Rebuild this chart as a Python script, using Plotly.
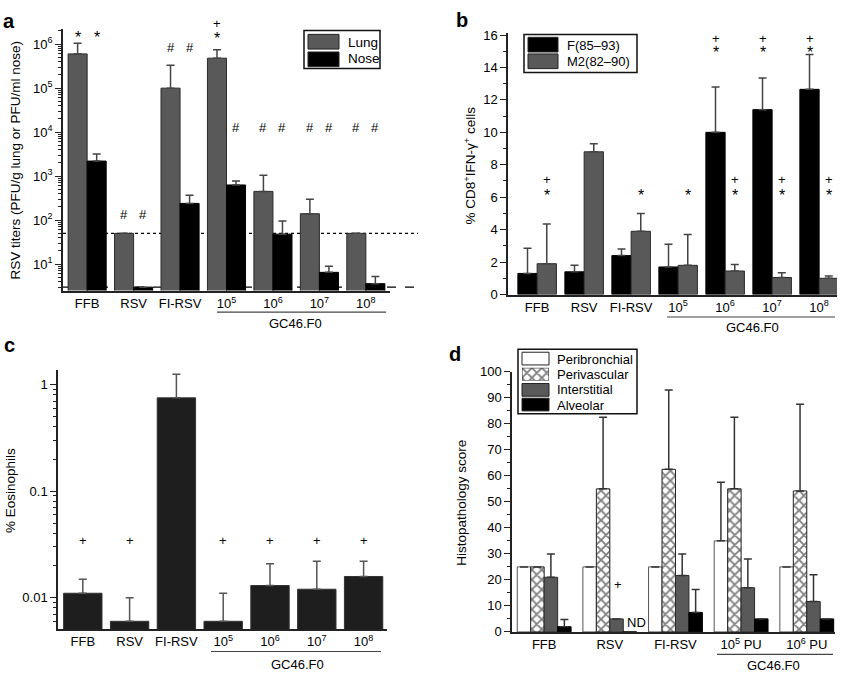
import math
import plotly.graph_objects as go

W, H = 843, 681
FONT = "Liberation Sans, Arial, Helvetica, sans-serif"


def px(x):
    return x / W


def py(y):
    return 1 - y / H


# ---------------- data ----------------
# Panel a: RSV titers
groups_a = ["FFB", "RSV", "FI-RSV", "10<sup>5</sup>", "10<sup>6</sup>", "10<sup>7</sup>", "10<sup>8</sup>"]
lung = [6.0e5, 50, 1.0e5, 4.8e5, 450, 140, 50]
lung_sd = [4.5e5, 0, 2.3e5, 2.7e5, 600, 160, 0]
nose = [2200, 3, 240, 630, 48, 6.5, 3.6]
nose_sd = [1000, 0, 130, 150, 47, 2.5, 1.6]
lung_lod = 50
nose_lod = 3
# (group, series 0=lung 1=nose, symbol, level)
marks_a = [
    (0, 0, "*", 1.75e6), (0, 1, "*", 1.75e6),
    (1, 0, "#", 135), (1, 1, "#", 135),
    (2, 0, "#", 8.5e5), (2, 1, "#", 8.5e5),
    (3, 0, "+", 2.95e6), (3, 0, "*", 1.66e6),
    (3, 1, "#", 1.3e4), (4, 0, "#", 1.3e4), (4, 1, "#", 1.3e4),
    (5, 0, "#", 1.3e4), (5, 1, "#", 1.3e4), (6, 0, "#", 1.3e4), (6, 1, "#", 1.3e4),
]

# Panel b: % CD8+ IFN-g+ cells
groups_b = groups_a
f_epi = [1.3, 1.4, 2.4, 1.7, 10.0, 11.4, 12.65]
f_sd = [1.55, 0.4, 0.4, 1.4, 2.8, 1.95, 2.15]
m2_epi = [1.9, 8.8, 3.9, 1.8, 1.45, 1.05, 1.0]
m2_sd = [2.45, 0.5, 1.1, 1.9, 0.4, 0.3, 0.15]
marks_b = [
    (0, 1, "+", 7.07), (0, 1, "*", 6.34),
    (2, 1, "*", 6.34), (3, 1, "*", 6.34),
    (4, 0, "+", 15.8), (4, 0, "*", 15.15), (4, 1, "+", 7.07), (4, 1, "*", 6.34),
    (5, 0, "+", 15.8), (5, 0, "*", 15.15), (5, 1, "+", 7.07), (5, 1, "*", 6.34),
    (6, 0, "+", 15.8), (6, 0, "*", 15.15), (6, 1, "+", 7.07), (6, 1, "*", 6.34),
]

# Panel c: % eosinophils
groups_c = groups_a
eos = [0.011, 0.006, 0.75, 0.006, 0.013, 0.012, 0.0158]
eos_sd = [0.0039, 0.004, 0.5, 0.005, 0.0078, 0.010, 0.0062]
plus_c_groups = [0, 1, 3, 4, 5, 6]
plus_c_level = 0.0347

# Panel d: histopathology
groups_d = ["FFB", "RSV", "FI-RSV", "10<sup>5</sup> PU", "10<sup>6</sup> PU"]
peribronchial = [25, 25, 25, 35, 25]
peribronchial_sd = [0, 0, 0, 22.5, 0]
perivascular = [25, 55, 62.5, 55, 54.2]
perivascular_sd = [0, 27.5, 30.5, 27.5, 33.3]
interstitial = [21, 5, 21.7, 17, 11.7]
interstitial_sd = [9, 0, 8.3, 11, 10.3]
alveolar = [2, 0, 7.5, 5, 5]
alveolar_sd = [2.8, 0, 8.8, 0, 0]

# ---------------- figure ----------------
fig = go.Figure()

BARGAP = 0.18
HATCH = dict(shape="x", fgcolor="#000", bgcolor="white", size=7, solidity=0.45)
GRAY = "#595959"


def err(sd, color="#444"):
    return dict(type="data", symmetric=False, array=sd, arrayminus=[0] * len(sd),
                color=color, thickness=1.5, width=4)


xs_a = list(range(len(groups_a)))
fig.add_trace(go.Bar(x=xs_a, y=lung, name="Lung", xaxis="x", yaxis="y",
                     marker=dict(color=GRAY, line=dict(color="#2a2a2a", width=1)),
                     error_y=err(lung_sd), showlegend=False))
fig.add_trace(go.Bar(x=xs_a, y=nose, name="Nose", xaxis="x", yaxis="y",
                     marker=dict(color="#000000", line=dict(color="#000", width=1)),
                     error_y=err(nose_sd), showlegend=False))

xs_b = list(range(len(groups_b)))
fig.add_trace(go.Bar(x=xs_b, y=f_epi, name="F(85–93)", xaxis="x2", yaxis="y2",
                     marker=dict(color="#000000", line=dict(color="#000", width=1)),
                     error_y=err(f_sd), showlegend=False))
fig.add_trace(go.Bar(x=xs_b, y=m2_epi, name="M2(82–90)", xaxis="x2", yaxis="y2",
                     marker=dict(color=GRAY, line=dict(color="#2a2a2a", width=1)),
                     error_y=err(m2_sd), showlegend=False))

xs_c = list(range(len(groups_c)))
fig.add_trace(go.Bar(x=xs_c, y=eos, name="Eosinophils", xaxis="x3", yaxis="y3",
                     marker=dict(color="#1e1e1e", line=dict(color="#333", width=1)),
                     error_y=err(eos_sd, "#555"), showlegend=False))

xs_d = list(range(len(groups_d)))
fig.add_trace(go.Bar(x=xs_d, y=peribronchial, name="Peribronchial", xaxis="x4", yaxis="y4",
                     marker=dict(color="white", line=dict(color="#555", width=1)),
                     error_y=err(peribronchial_sd, "#333"), showlegend=False))
fig.add_trace(go.Bar(x=xs_d, y=perivascular, name="Perivascular", xaxis="x4", yaxis="y4",
                     marker=dict(color="white", line=dict(color="#222", width=1), pattern=HATCH),
                     error_y=err(perivascular_sd, "#333"), showlegend=False))
fig.add_trace(go.Bar(x=xs_d, y=interstitial, name="Interstitial", xaxis="x4", yaxis="y4",
                     marker=dict(color=GRAY, line=dict(color="#2a2a2a", width=1)),
                     error_y=err(interstitial_sd, "#333"), showlegend=False))
fig.add_trace(go.Bar(x=xs_d, y=alveolar, name="Alveolar", xaxis="x4", yaxis="y4",
                     marker=dict(color="#000000", line=dict(color="#000", width=1)),
                     error_y=err(alveolar_sd, "#333"), showlegend=False))

# crosshatch legend swatch for panel d (drawn on a hidden helper axis)
fig.add_trace(go.Bar(x=[0], y=[1], xaxis="x5", yaxis="y5", width=[1], showlegend=False,
                     hoverinfo="skip",
                     marker=dict(color="white", line=dict(color="#222", width=1), pattern=HATCH)))

annotations = []
shapes = []

half_w2 = (1 - BARGAP) / 4  # centre offset for two-bar groups

# panel a y-axis geometry (used to place marks that sit above the axis top)
A_DOM = (py(290), py(23))
A_RANGE = (math.log10(2.5), 6.333)


def ann(x, y, text, xref="paper", yref="paper", size=13, **kw):
    d = dict(x=x, y=y, xref=xref, yref=yref, text=text, showarrow=False,
             xanchor="center", yanchor="middle",
             font=dict(family=FONT, size=size, color="black"))
    d.update(kw)
    annotations.append(d)


def mark(x, y, sym, xref, yref):
    # asterisk glyph sits high in its line box: enlarge and nudge it down a little
    if sym == "*":
        ann(x, y, sym, xref=xref, yref=yref, size=16, yshift=-4)
    else:
        ann(x, y, sym, xref=xref, yref=yref, size=13)


for g, s, sym, lev in marks_a:
    off = -half_w2 if s == 0 else half_w2
    ly = math.log10(lev)
    if ly > A_RANGE[1]:
        yp = A_DOM[0] + (ly - A_RANGE[0]) / (A_RANGE[1] - A_RANGE[0]) * (A_DOM[1] - A_DOM[0])
        mark(g + off, yp, sym, "x", "paper")
    else:
        mark(g + off, ly, sym, "x", "y")
for g, s, sym, lev in marks_b:
    off = -half_w2 if s == 0 else half_w2
    mark(g + off, lev, sym, "x2", "y2")
for g in plus_c_groups:
    mark(g, math.log10(plus_c_level), "+", "x3", "y3")
mark(1.12, 18.4, "+", "x4", "y4")
ann(1.40, 3.6, "ND", xref="x4", yref="y4", size=13)

# detection limits in panel a
shapes.append(dict(type="line", xref="paper", yref="y", x0=px(63), x1=px(418),
                   y0=lung_lod, y1=lung_lod, line=dict(color="black", width=1.2, dash="dot"),
                   layer="below"))
shapes.append(dict(type="line", xref="paper", yref="y", x0=px(63), x1=px(418),
                   y0=nose_lod, y1=nose_lod, line=dict(color="black", width=1.2, dash="dash"),
                   layer="below"))

# group underlines + GC46.F0 labels
for (x0, x1, yl, xt, yt) in [(217, 386, 312, 295, 324),
                              (667, 835, 317, 752, 328),
                              (211, 381, 659, 297, 672),
                              (717, 833, 662, 773, 673)]:
    shapes.append(dict(type="line", xref="paper", yref="paper", x0=px(x0), x1=px(x1),
                       y0=py(yl), y1=py(yl), line=dict(color="#444", width=1.2)))
    ann(px(xt), py(yt), "GC46.F0", size=13)

# y axis titles
ann(px(16), py(157), "RSV titers (PFU/g lung or PFU/ml nose)", size=13.5, textangle=-90)
ann(px(470), py(162), "% CD8<sup>+</sup>IFN-γ<sup>+</sup> cells", size=13.5, textangle=-90)
ann(px(10), py(495), "% Eosinophils", size=13.5, textangle=-90)
ann(px(462), py(507), "Histopathology score", size=13.5, textangle=-90)

# panel letters
for letter, x, y in [("a", 9, 14), ("b", 462, 13), ("c", 9, 346), ("d", 455, 355)]:
    ann(px(x), py(y), "<b>%s</b>" % letter, size=20)


# legends (drawn manually)
def rect(x0, y0, x1, y1, fill, line="#222", width=1):
    shapes.append(dict(type="rect", xref="paper", yref="paper", x0=px(x0), x1=px(x1),
                       y0=py(y0), y1=py(y1), fillcolor=fill, line=dict(color=line, width=width)))


NOFILL = "rgba(0,0,0,0)"
rect(304, 24, 380, 63, NOFILL, "#111", 1.5)
rect(308, 28, 339, 43, GRAY)
rect(308, 46, 339, 61, "#000000")
ann(px(346), py(36), "Lung", size=13.5, xanchor="left")
ann(px(346), py(53), "Nose", size=13.5, xanchor="left")

rect(524, 28, 637, 67, NOFILL, "#111", 1.5)
rect(528, 31, 558, 46, "#000000")
rect(528, 48, 558, 63, GRAY)
ann(px(565), py(39), "F(85–93)", size=13, xanchor="left")
ann(px(565), py(56), "M2(82–90)", size=13, xanchor="left")

rect(518, 350, 637, 416, NOFILL, "#111", 1.5)
rect(522, 353, 549, 366, "white")
rect(522, 385, 549, 398, GRAY)
rect(522, 400, 549, 413, "#000000")
for txt, yc in [("Peribronchial", 360), ("Perivascular", 376), ("Interstitial", 391), ("Alveolar", 407)]:
    ann(px(555), py(yc), txt, size=13, xanchor="left")

# ---------------- axes ----------------
AX = dict(showline=True, linecolor="#222", linewidth=1.5, showgrid=False, zeroline=False,
          tickfont=dict(family=FONT, size=13, color="black"))
XAX = dict(AX, ticks="", tickmode="array")
YAX = dict(AX, ticks="outside", ticklen=6, tickwidth=1.2, tickcolor="#222")


def log_minor(lo, hi):
    vals = []
    for e in range(lo, hi):
        for m in range(2, 10):
            vals.append(m * 10 ** e)
    return vals


layout = dict(
    width=W, height=H, margin=dict(l=0, r=0, t=0, b=0),
    paper_bgcolor="white", plot_bgcolor="white",
    barmode="group", bargap=BARGAP, bargroupgap=0.0,
    font=dict(family=FONT, color="black"),
    showlegend=False,
    xaxis=dict(XAX, domain=[px(63), px(390)], anchor="y", range=[-0.52, 6.52],
               tickvals=xs_a, ticktext=groups_a),
    yaxis=dict(YAX, domain=[A_DOM[0], A_DOM[1]], anchor="x", type="log",
               range=list(A_RANGE),
               tickvals=[10 ** k for k in range(1, 7)],
               ticktext=["10<sup>%d</sup>" % k for k in range(1, 7)],
               minor=dict(tickmode="array", tickvals=log_minor(0, 7), ticks="outside",
                          ticklen=3, tickcolor="#222", showgrid=False)),
    xaxis2=dict(XAX, domain=[px(508), px(837)], anchor="y2", range=[-0.62, 6.38],
                tickvals=xs_b, ticktext=groups_b),
    yaxis2=dict(YAX, domain=[py(294), py(27)], anchor="x2", range=[0, 16.1],
                tickvals=list(range(0, 17, 2)),
                minor=dict(tickmode="array", tickvals=list(range(1, 17, 2)), ticks="outside",
                           ticklen=3, tickcolor="#222", showgrid=False)),
    xaxis3=dict(XAX, domain=[px(58), px(387)], anchor="y3", range=[-0.53, 6.5],
                tickvals=xs_c, ticktext=groups_c),
    yaxis3=dict(YAX, domain=[py(636), py(371)], anchor="x3", type="log",
                range=[-2.294, 0.138],
                tickvals=[0.01, 0.1, 1], ticktext=["0.01", "0.1", "1"],
                minor=dict(tickmode="array", tickvals=log_minor(-3, 1), ticks="outside",
                           ticklen=3, tickcolor="#222", showgrid=False)),
    xaxis4=dict(XAX, domain=[px(512), px(835)], anchor="y4", range=[-0.49, 4.43],
                tickvals=xs_d, ticktext=groups_d),
    yaxis4=dict(YAX, domain=[py(639), py(373)], anchor="x4", range=[0, 100],
                tickvals=list(range(0, 101, 10)),
                minor=dict(tickmode="array", tickvals=list(range(5, 100, 10)), ticks="outside",
                           ticklen=3, tickcolor="#222", showgrid=False)),
    xaxis5=dict(domain=[px(522), px(549)], anchor="y5", range=[-0.5, 0.5], visible=False),
    yaxis5=dict(domain=[py(382), py(369)], anchor="x5", range=[0, 1], visible=False),
    annotations=annotations,
    shapes=shapes,
)
fig.update_layout(**layout)

# remove the browser's default 8px body margin so the figure starts at the page corner
fig.write_html("out.html", config={"displayModeBar": False},
               post_script="document.body.style.margin='0';document.body.style.overflow='hidden';")
